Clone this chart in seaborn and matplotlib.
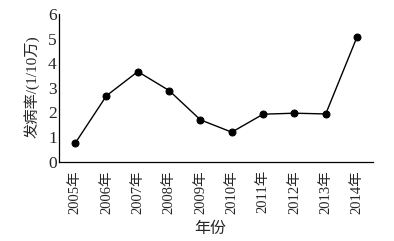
import matplotlib
matplotlib.use("Agg")
import matplotlib.pyplot as plt
import seaborn as sns
import numpy as np
import pandas as pd

years = ["2005年", "2006年", "2007年", "2008年", "2009年",
         "2010年", "2011年", "2012年", "2013年", "2014年"]
rates = [0.75, 2.68, 3.66, 2.89, 1.70, 1.20, 1.93, 1.97, 1.94, 5.07]

sns.set_theme(style="white")
plt.rcParams['font.family'] = ['Liberation Serif', 'Noto Sans CJK SC', 'DejaVu Sans']
plt.rcParams['axes.unicode_minus'] = False

df = pd.DataFrame({"pos": np.arange(len(years)), "rate": rates})

fig = plt.figure(figsize=(3.94, 2.41), dpi=100)
ax = fig.add_axes([0.151, 0.329, 0.795, 0.613])
sns.lineplot(data=df, x="pos", y="rate", ax=ax, color="black", linewidth=1.0,
             marker="o", markersize=5, markeredgecolor="black", markerfacecolor="black")

ax.set_xlim(-0.5, len(years) - 0.5)
ax.set_ylim(0, 6)
ax.set_yticks(range(0, 7))
ax.set_yticklabels([str(i) for i in range(0, 7)], fontsize=12.5)

ax.set_xticks(np.arange(len(years)) + 0.5)
ax.set_xticklabels([])
ax.set_xticks(np.arange(len(years)), minor=True)
ax.set_xticklabels(years, minor=True, rotation=90, fontsize=10.5)
ax.tick_params(axis="x", which="major", direction="in", length=4, width=0.8, color="black")
ax.tick_params(axis="x", which="minor", length=0, pad=6)
ax.tick_params(axis="y", direction="in", length=4, width=0.8, color="black", pad=2)

for s in ["top", "right"]:
    ax.spines[s].set_visible(False)
for s in ["left", "bottom"]:
    ax.spines[s].set_color("black")
    ax.spines[s].set_linewidth(0.9)

ax.set_xlabel("年份", fontsize=11.5)
ax.xaxis.set_label_coords(0.48, -0.40)
ax.set_ylabel("发病率/(1/10万)", fontsize=11)
ax.yaxis.set_label_coords(-0.063, 0.51)

fig.savefig("out.png", dpi=100, facecolor="white")
